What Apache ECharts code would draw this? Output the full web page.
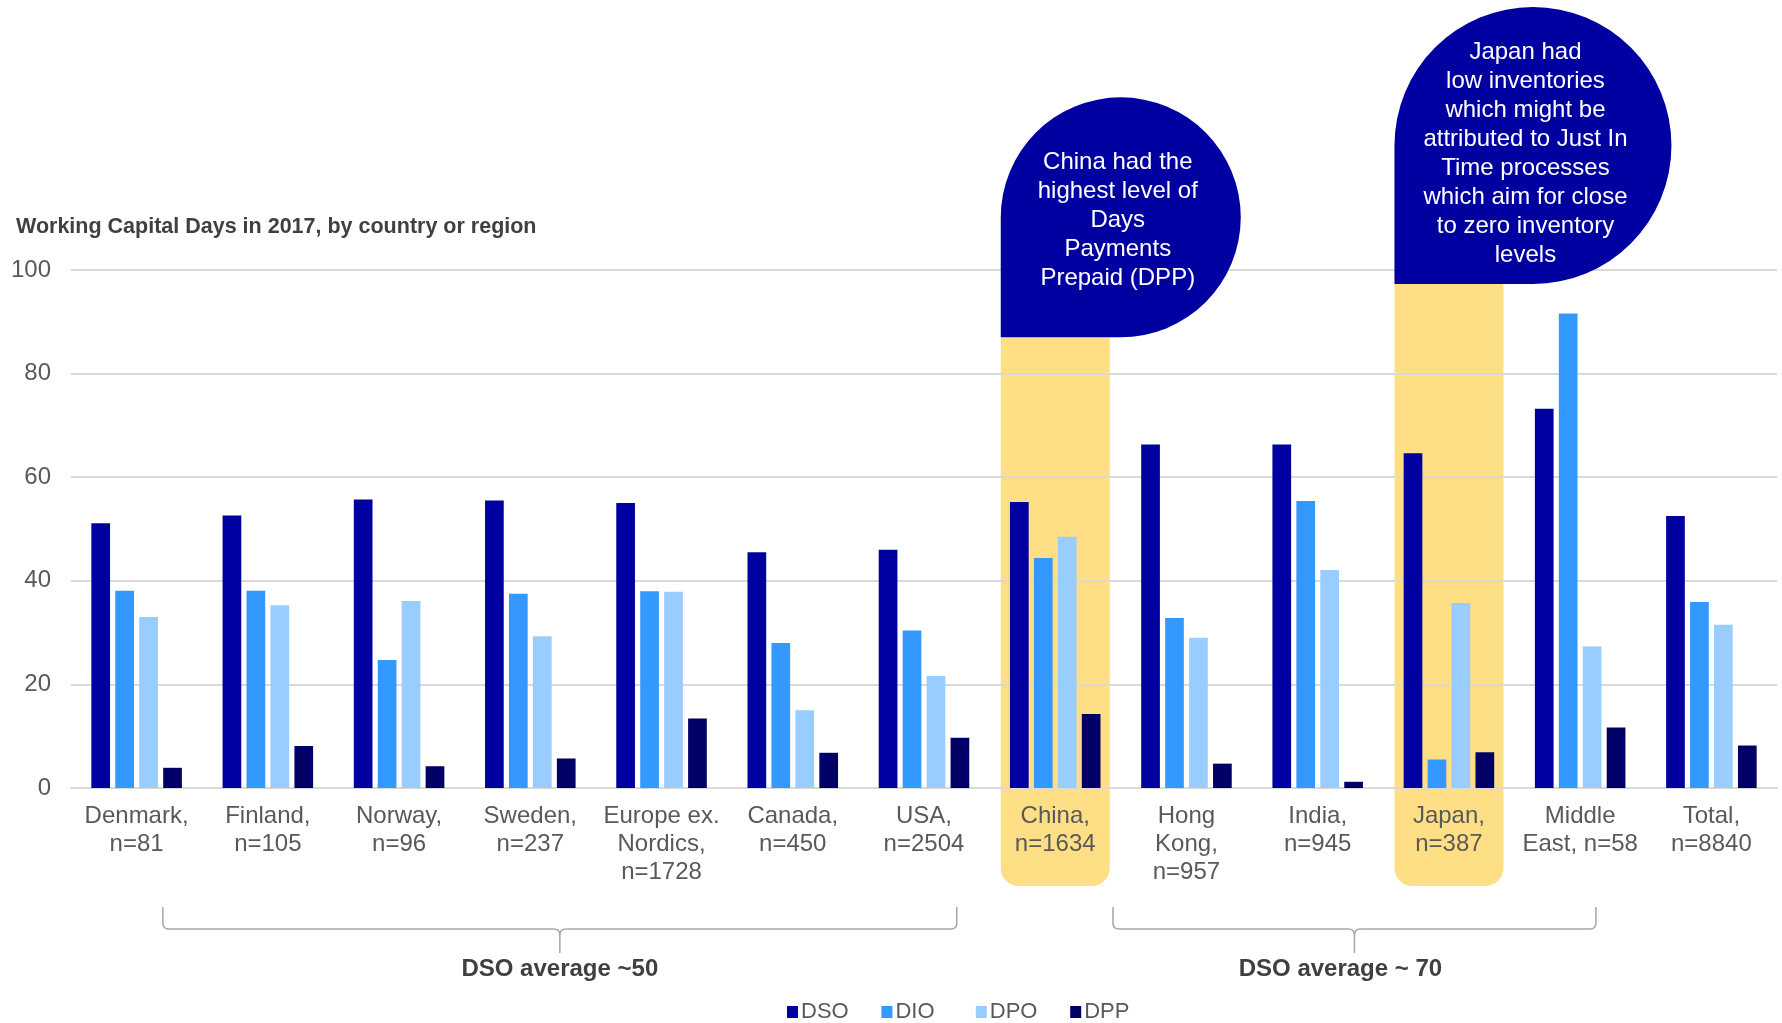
<!DOCTYPE html>
<html>
<head>
<meta charset="utf-8">
<title>Working Capital Days in 2017</title>
<script src="https://cdn.jsdelivr.net/npm/echarts@6/dist/echarts.min.js"></script>
<style>
  html, body { margin: 0; padding: 0; background: #ffffff; }
  #chart { width: 1782px; height: 1023px; }
</style>
</head>
<body>
<div id="chart"></div>
<script>
// Country / region labels with sample sizes
const categories = [
  'Denmark,\nn=81', 'Finland,\nn=105', 'Norway,\nn=96', 'Sweden,\nn=237',
  'Europe ex.\nNordics,\nn=1728', 'Canada,\nn=450', 'USA,\nn=2504', 'China,\nn=1634',
  'Hong\nKong,\nn=957', 'India,\nn=945', 'Japan,\nn=387', 'Middle\nEast, n=58', 'Total,\nn=8840'
];

// Working capital days per metric
const dso = [51.1, 52.6, 55.7, 55.5, 55.0, 45.5, 46.0, 55.2, 66.3, 66.3, 64.6, 73.2, 52.5];
const dio = [38.1, 38.1, 24.7, 37.5, 38.0, 28.0, 30.4, 44.4, 32.8, 55.4, 5.5, 91.6, 35.9];
const dpo = [33.0, 35.3, 36.1, 29.3, 37.9, 15.0, 21.6, 48.5, 29.0, 42.1, 35.7, 27.3, 31.5];
const dpp = [3.9, 8.1, 4.2, 5.7, 13.4, 6.8, 9.7, 14.3, 4.7, 1.2, 6.9, 11.7, 8.2];

const yTicks = [0, 20, 40, 60, 80, 100];

const seriesNames = ['DSO', 'DIO', 'DPO', 'DPP'];
const seriesColors = ['#0000A0', '#3399FF', '#99CCFF', '#000066'];

// Annotation texts
const chinaNote = 'China had the\nhighest level of\nDays\nPayments\nPrepaid (DPP)';
const japanNote = 'Japan had\nlow inventories\nwhich might be\nattributed to Just In\nTime processes\nwhich aim for close\nto zero inventory\nlevels';
const groupLabels = ['DSO average ~50', 'DSO average ~ 70'];

const FONT = '"Liberation Sans", Arial, sans-serif';
const GREY = '#595959';
const DARK = '#404040';

const chart = echarts.init(document.getElementById('chart'), null, { renderer: 'canvas' });

const seriesData = [dso, dio, dpo, dpp];

// One legend block per series so every entry gets the same fixed slot width
const LEGEND_LEFT = 787;
const LEGEND_SLOT = 94.4;

const option = {
  backgroundColor: '#ffffff',
  animation: false,
  title: {
    text: 'Working Capital Days in 2017, by country or region',
    left: 16,
    top: 216,
    padding: 0,
    textStyle: { fontFamily: FONT, fontSize: 21.5, fontWeight: 'bold', color: DARK }
  },
  legend: seriesNames.map((name, i) => ({
    data: [name],
    left: LEGEND_LEFT + i * LEGEND_SLOT,
    top: 1001,
    padding: 0,
    itemGap: 0,
    itemWidth: 11,
    itemHeight: 12,
    icon: 'rect',
    textStyle: { fontFamily: FONT, fontSize: 22, color: GREY, padding: [0, 0, 0, -2] }
  })),
  grid: { left: 71, right: 5, top: 270, bottom: 235, containLabel: false },
  xAxis: {
    type: 'category',
    data: categories,
    axisTick: { show: false },
    axisLine: { lineStyle: { color: '#D9D9D9', width: 2 } },
    axisLabel: {
      interval: 0,
      margin: 14,
      fontFamily: FONT,
      fontSize: 24,
      lineHeight: 28,
      color: GREY,
      align: 'center'
    }
  },
  yAxis: {
    type: 'value',
    min: yTicks[0],
    max: yTicks[yTicks.length - 1],
    interval: yTicks[1] - yTicks[0],
    axisLine: { show: false },
    axisTick: { show: false },
    splitLine: { lineStyle: { color: '#D9D9D9', width: 2 } },
    axisLabel: { fontFamily: FONT, fontSize: 24, color: GREY, margin: 20 }
  },
  series: seriesNames.map((name, i) => ({
    name: name,
    type: 'bar',
    data: seriesData[i],
    barGap: '28%',
    barCategoryGap: '31%',
    itemStyle: { color: seriesColors[i] },
    z: 3
  }))
};

chart.setOption(option);

// Annotations anchored to the category axis
const px = i => chart.convertToPixel({ xAxisIndex: 0 }, categories[i]);
const py = v => chart.convertToPixel({ yAxisIndex: 0 }, v);
const band = px(1) - px(0);
const yZero = py(0);

const HL_W = band * 0.83;
const HL_COLOR = '#FFDF85';
const NOTE_COLOR = '#0000A0';
const BRACE_STYLE = { stroke: '#A6A6A6', lineWidth: 1.5, fill: null };

function highlight(idx, topValue) {
  const x = px(idx) - HL_W / 2;
  const yTop = py(topValue);
  return {
    type: 'rect',
    z: -1,
    shape: { x: x, y: yTop, width: HL_W, height: yZero + 98 - yTop, r: [0, 0, 18, 18] },
    style: { fill: HL_COLOR }
  };
}

function bubble(idx, bottomValue, size, text, dx, dy) {
  const x = px(idx) - HL_W / 2;
  const bottom = py(bottomValue);
  const top = bottom - size;
  const R = size / 2;
  return [
    {
      type: 'rect',
      z: 20,
      shape: { x: x, y: top, width: size, height: size, r: [R, R, R, 0] },
      style: { fill: NOTE_COLOR }
    },
    {
      type: 'text',
      z: 21,
      x: x + dx,
      y: top + dy,
      style: {
        text: text,
        fill: '#ffffff',
        font: '24px ' + FONT,
        align: 'center',
        verticalAlign: 'middle',
        lineHeight: 29
      }
    }
  ];
}

function seg(x1, y1, x2, y2) {
  return { type: 'line', shape: { x1: x1, y1: y1, x2: x2, y2: y2 }, style: BRACE_STYLE };
}

function curve(x1, y1, cx, cy, x2, y2) {
  return { type: 'bezierCurve', shape: { x1: x1, y1: y1, cpx1: cx, cpy1: cy, x2: x2, y2: y2 }, style: BRACE_STYLE };
}

function brace(x1, x2, labelText, labelDx) {
  const yTop = yZero + 119;
  const yMid = yZero + 141;
  const yTip = yZero + 165;
  const xc = (x1 + x2) / 2;
  const r = 6;
  return [
    seg(x1, yTop, x1, yMid - r),
    curve(x1, yMid - r, x1, yMid, x1 + r, yMid),
    seg(x1 + r, yMid, xc - r, yMid),
    curve(xc - r, yMid, xc, yMid, xc, yMid + r),
    curve(xc + r, yMid, xc, yMid, xc, yMid + r),
    seg(xc, yMid + r, xc, yTip),
    seg(xc + r, yMid, x2 - r, yMid),
    curve(x2 - r, yMid, x2, yMid, x2, yMid - r),
    seg(x2, yMid - r, x2, yTop),
    {
      type: 'text',
      x: xc + labelDx,
      y: yZero + 181,
      style: {
        text: labelText,
        fill: DARK,
        font: 'bold 24px ' + FONT,
        align: 'center',
        verticalAlign: 'middle'
      }
    }
  ];
}

const graphics = [].concat(
  [highlight(7, 87), highlight(10, 97.3)],
  bubble(7, 87, 240, chinaNote, 117, 123),
  bubble(10, 97.3, 277, japanNote, 131, 147),
  brace(px(0) + 0.2 * band, px(6) + 0.25 * band, groupLabels[0], 0),
  brace(px(8) - 0.56 * band, px(11) + 0.12 * band, groupLabels[1], -14)
);

chart.setOption({ graphic: { elements: graphics } });
</script>
</body>
</html>
